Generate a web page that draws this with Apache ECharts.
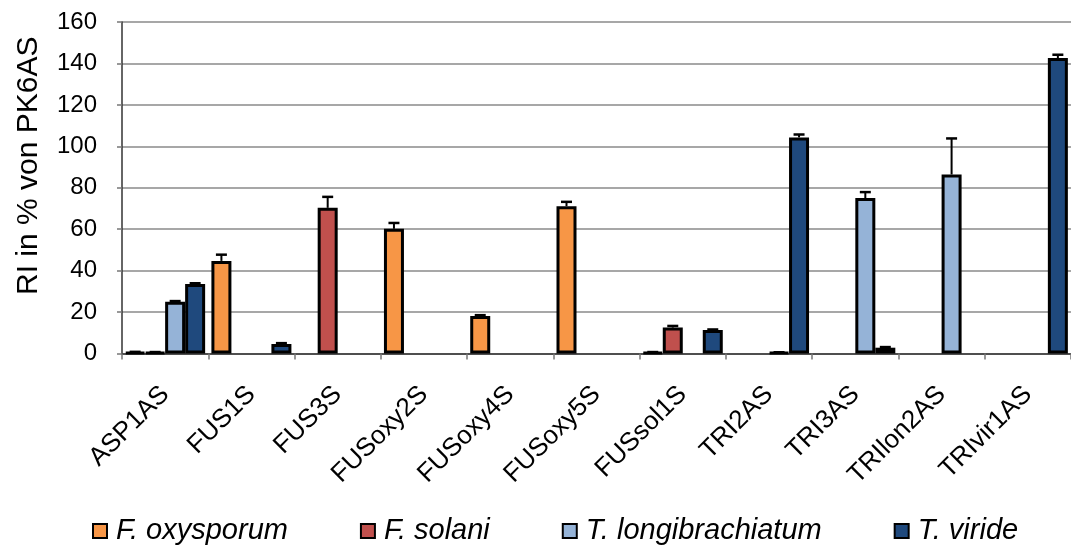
<!DOCTYPE html>
<html>
<head>
<meta charset="utf-8">
<script src="https://cdn.jsdelivr.net/npm/echarts@6/dist/echarts.min.js"></script>
<style>
  html, body { margin: 0; padding: 0; background: #fff; }
  #chart { width: 1071px; height: 545px; }
</style>
</head>
<body>
<div id="chart"></div>
<script>
// Relative intensity (RI, % of PK6AS) per probe, one bar per fungal species
const categories = ['ASP1AS', 'FUS1S', 'FUS3S', 'FUSoxy2S', 'FUSoxy4S', 'FUSoxy5S',
                    'FUSsol1S', 'TRI2AS', 'TRI3AS', 'TRIlon2AS', 'TRIvir1AS'];
const seriesNames = ['F. oxysporum', 'F. solani', 'T. longibrachiatum', 'T. viride'];

const oxysporum      = [0.6, 44.7, null, 60.2, 18.1, 71.1, 0.5, null, null, null, null];
const solani         = [0.5, null, 70.3, null, null, null, 12.5, null, null, null, null];
const longibrachiatum= [25.0, null, null, null, null, null, null, 0.5, 75.0, 86.4, null];
const viride         = [33.6, 4.6, null, null, null, null, 11.3, 104.3, 2.8, null, 142.6];

// Standard deviations (upper error bars only)
const oxysporumErr      = [0.2, 3.0, null, 2.8, 0.4, 2.1, 0.2, null, null, null, null];
const solaniErr         = [0.2, null, 5.3, null, null, null, 0.8, null, null, null, null];
const longibrachiatumErr= [0.3, null, null, null, null, null, null, 0.1, 2.9, 17.4, null];
const virideErr         = [0.3, 0.4, null, null, null, null, 0.3, 1.4, 0.3, null, 1.6];

const yTicks = { min: 0, max: 160, interval: 20 };

const values = [oxysporum, solani, longibrachiatum, viride];
const errors = [oxysporumErr, solaniErr, longibrachiatumErr, virideErr];
const colors = ['#F79646', '#C0504D', '#95B3D7', '#1F497D'];

const FONT = '"Liberation Sans", Arial, sans-serif';
const BAR_W = 20;

const barSeries = seriesNames.map((name, i) => ({
  name: name,
  type: 'bar',
  barWidth: BAR_W,
  barGap: '0%',
  itemStyle: { color: colors[i], borderColor: '#000', borderWidth: 3 },
  data: values[i].map(v => (v === null ? '-' : v)),
  z: 2
}));

// Error bars drawn as a custom series, one per species, offset to sit on its bar
const errorSeries = seriesNames.map((name, i) => {
  const data = [];
  values[i].forEach((v, k) => {
    if (v !== null && errors[i][k] !== null) data.push([k, v, v + errors[i][k]]);
  });
  return {
    type: 'custom',
    name: name + ' SD',
    data: data,
    z: 3,
    silent: true,
    encode: { x: 0, y: [1, 2] },
    renderItem: function (params, api) {
      const base = api.coord([api.value(0), api.value(1)]);
      const top = api.coord([api.value(0), api.value(2)]);
      const dx = (i - 1.5) * BAR_W;
      const x = base[0] + dx;
      const capHalf = 5.5;
      return {
        type: 'group',
        children: [
          { type: 'line', shape: { x1: x, y1: base[1], x2: x, y2: top[1] },
            style: { stroke: '#000', lineWidth: 2 } },
          { type: 'line', shape: { x1: x - capHalf, y1: top[1], x2: x + capHalf, y2: top[1] },
            style: { stroke: '#000', lineWidth: 2.5 } }
        ]
      };
    }
  };
});

const chart = echarts.init(document.getElementById('chart'));
chart.setOption({
  animation: false,
  backgroundColor: '#fff',
  textStyle: { fontFamily: FONT },
  grid: { left: 122, right: -8, top: 22, bottom: 191.5, containLabel: false },
  legend: {
    data: seriesNames,
    left: 87,
    top: 511,
    itemWidth: 14,
    itemHeight: 14,
    itemGap: 72,
    icon: 'rect',
    itemStyle: { borderColor: '#000', borderWidth: 2 },
    textStyle: { fontFamily: FONT, fontSize: 29, fontStyle: 'italic', color: '#000',
                 padding: [0, 0, 0, 4], lineHeight: 30 }
  },
  xAxis: {
    type: 'category',
    data: categories,
    axisLine: { lineStyle: { color: '#333', width: 1.5 } },
    axisTick: { show: true, length: 6, alignWithLabel: false, lineStyle: { color: '#777', width: 1.5 } },
    axisLabel: { rotate: 45, margin: 37, color: '#000', fontSize: 26, fontFamily: FONT, interval: 0 },
    splitLine: { show: false }
  },
  yAxis: {
    type: 'value',
    min: yTicks.min,
    max: yTicks.max,
    interval: yTicks.interval,
    name: 'RI in % von PK6AS',
    nameLocation: 'middle',
    nameGap: 78,
    nameTextStyle: { fontSize: 30, color: '#000', fontFamily: FONT, padding: [0, 0, 0, 44] },
    axisLine: { show: true, lineStyle: { color: '#333', width: 1.5 } },
    axisTick: { show: true, inside: false, length: 5, lineStyle: { color: '#777', width: 1.5 } },
    axisLabel: { margin: 25, color: '#000', fontSize: 24, fontFamily: FONT },
    splitLine: { show: true, lineStyle: { color: '#8a8a8a', width: 1.5 } }
  },
  series: barSeries.concat(errorSeries)
});
</script>
</body>
</html>
